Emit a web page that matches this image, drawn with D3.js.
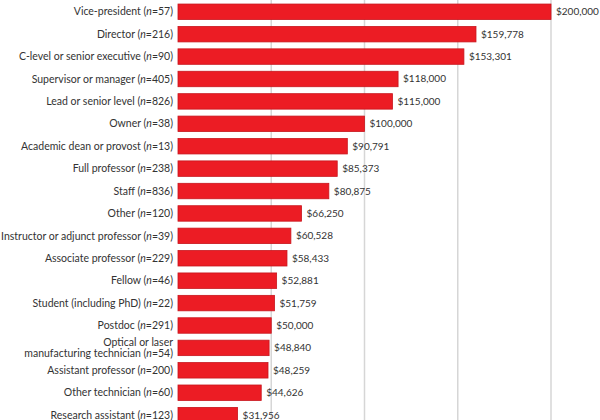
<!DOCTYPE html>
<html><head><meta charset="utf-8">
<script src="https://cdn.jsdelivr.net/npm/d3@7"></script>
<style>html,body{margin:0;padding:0;background:#fff;}svg{display:block;}</style>
</head><body>
<svg id="chart" width="600" height="420"></svg>
<script>
const roles = ["Vice-president","Director","C-level or senior executive","Supervisor or manager","Lead or senior level","Owner","Academic dean or provost","Full professor","Staff","Other","Instructor or adjunct professor","Associate professor","Fellow","Student (including PhD)","Postdoc","Optical or laser|manufacturing technician","Assistant professor","Other technician","Research assistant"];
const counts = [57,216,90,405,826,38,13,238,836,120,39,229,46,22,291,54,200,60,123];
const salaries = [200000,159778,153301,118000,115000,100000,90791,85373,80875,66250,60528,58433,52881,51759,50000,48840,48259,44626,31956];
const gridTicks = [0,50000,100000,150000,200000];

const svg = d3.select("#chart");
const x = d3.scaleLinear().domain([0,200000]).range([178,551]);
const y = d3.scaleBand().domain(roles).range([0,426.9]).paddingInner(0.31).paddingOuter(0.18);

svg.append("g").selectAll("line").data(gridTicks.slice(1)).join("line")
  .attr("x1",d=>x(d)).attr("x2",d=>x(d)).attr("y1",0).attr("y2",420)
  .attr("stroke","#d6d6d6").attr("stroke-width",1.5);

svg.append("g").selectAll("rect").data(roles).join("rect")
  .attr("x",x(0)).attr("y",d=>y(d))
  .attr("width",(d,i)=>x(salaries[i])-x(0)).attr("height",y.bandwidth())
  .attr("fill","#ec1c24").attr("stroke","#c8161d").attr("stroke-width",0.8);

const fmt = d3.format("$,");
svg.append("g").selectAll("text").data(roles).join("text")
  .attr("x",(d,i)=>x(salaries[i])+5).attr("y",d=>y(d)+y.bandwidth()/2)
  .attr("dy","0.35em").attr("font-family","Lato").attr("font-size",10).attr("fill","#333")
  .text((d,i)=>fmt(salaries[i]));

const lab = svg.append("g").selectAll("text").data(roles).join("text")
  .attr("text-anchor","end").attr("font-family","Lato").attr("font-size",10.5).attr("fill","#333");
lab.each(function(d,i){
  const t = d3.select(this);
  const lines = d.split("|");
  const cy = y(d)+y.bandwidth()/2;
  const lh = 10.6;
  lines.forEach((ln,k)=>{
    const ty = cy + (k-(lines.length-1)/2)*lh;
    t.append("tspan").attr("x",173).attr("y",ty).attr("dy","0.35em").text(ln + (k===lines.length-1?" (":""));
    if(k===lines.length-1){
      t.append("tspan").attr("font-style","italic").text("n");
      t.append("tspan").text("="+counts[i]+")");
    }
  });
});
</script>
</body></html>
